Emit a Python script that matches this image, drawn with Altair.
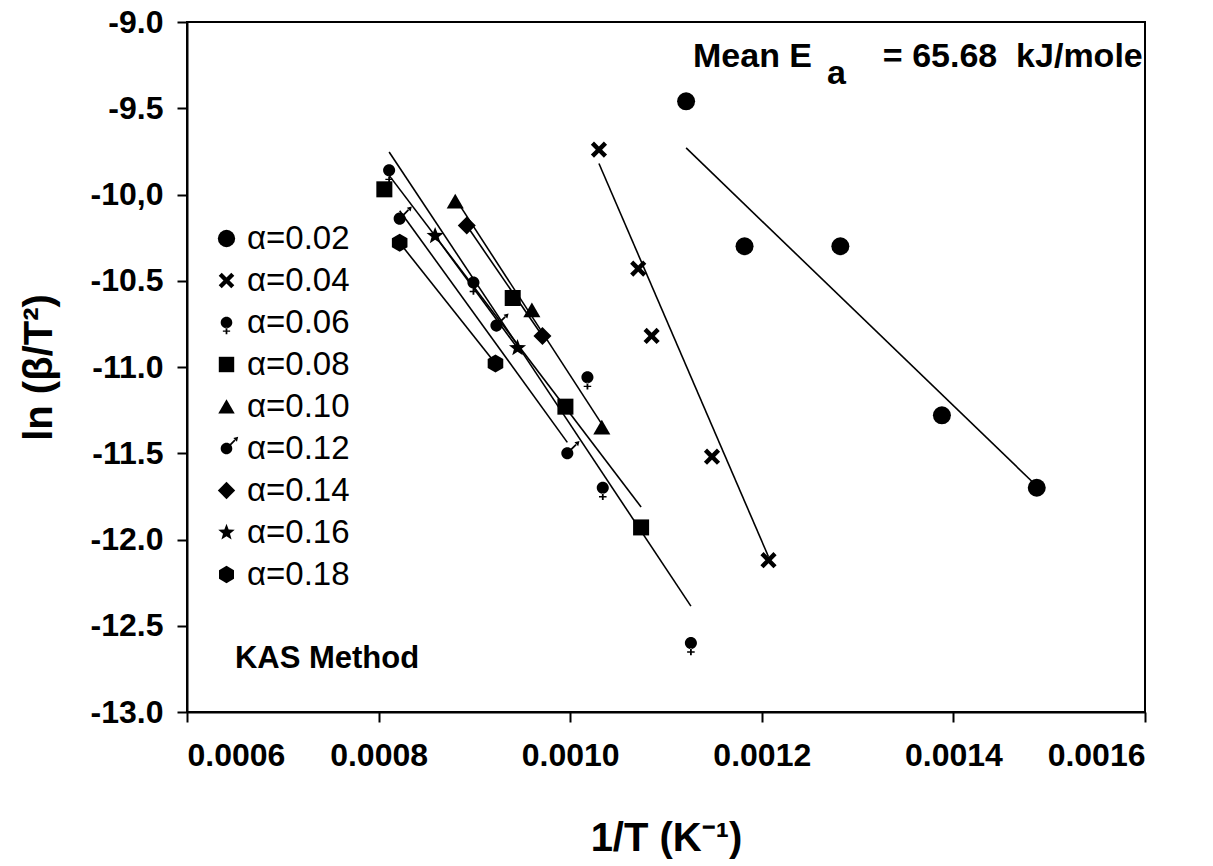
import altair as alt
import pandas as pd

# ---------------- data ----------------
series = ["α=0.02", "α=0.04", "α=0.06", "α=0.08", "α=0.10",
          "α=0.12", "α=0.14", "α=0.16", "α=0.18"]

x_002 = [0.001121, 0.001182, 0.001282, 0.001388, 0.001487]
y_002 = [-9.46, -10.30, -10.30, -11.28, -11.70]

x_004 = [0.001030, 0.001071, 0.001085, 0.001148, 0.001207]
y_004 = [-9.74, -10.43, -10.82, -11.52, -12.12]

x_006 = [0.000811, 0.000899, 0.001018, 0.001034, 0.001126]
y_006 = [-9.86, -10.51, -11.06, -11.70, -12.60]

x_008 = [0.000806, 0.000940, 0.000995, 0.001074]
y_008 = [-9.97, -10.60, -11.23, -11.93]

x_010 = [0.000880, 0.000960, 0.001033]
y_010 = [-10.04, -10.67, -11.35]

x_012 = [0.000822, 0.000923, 0.000997]
y_012 = [-10.14, -10.76, -11.50]

x_014 = [0.000892, 0.000971]
y_014 = [-10.18, -10.82]

x_016 = [0.000859, 0.000945]
y_016 = [-10.24, -10.89]

x_018 = [0.000822, 0.000922]
y_018 = [-10.28, -10.98]

# fitted lines drawn in the figure for the two right-hand series (ends)
fit_series = ["α=0.02", "α=0.04"]
fit_x = [[0.001121, 0.001487], [0.001030, 0.001207]]
fit_y = [[-9.73, -11.69], [-9.82, -12.10]]

x_ticks = [0.0006, 0.0008, 0.0010, 0.0012, 0.0014, 0.0016]
y_ticks = [-9.0, -9.5, -10.0, -10.5, -11.0, -11.5, -12.0, -12.5, -13.0]
y_tick_labels = ["-9.0", "-9.5", "-10,0", "-10.5", "-11.0", "-11.5",
                 "-12.0", "-12.5", "-13.0"]

# ---------------- tables ----------------
xs = [x_002, x_004, x_006, x_008, x_010, x_012, x_014, x_016, x_018]
ys = [y_002, y_004, y_006, y_008, y_010, y_012, y_014, y_016, y_018]
rows = []
for s, xv, yv in zip(series, xs, ys):
    for a, b in zip(xv, yv):
        rows.append({"series": s, "x": a, "y": b})
df = pd.DataFrame(rows)
df_left = df[~df["series"].isin(fit_series)]

fit_rows = []
for s, fx, fy in zip(fit_series, fit_x, fit_y):
    for a, b in zip(fx, fy):
        fit_rows.append({"series": s, "x": a, "y": b})
df_fit = pd.DataFrame(fit_rows)

# marker shapes (unit paths)
circle = "circle"
xmark = ("M-0.9,-0.55L-0.55,-0.9L0,-0.35L0.55,-0.9L0.9,-0.55L0.35,0L0.9,0.55"
         "L0.55,0.9L0,0.35L-0.55,0.9L-0.9,0.55L-0.35,0Z")
female = ("M-0.67,0A0.67,0.67 0 1,0 0.67,0A0.67,0.67 0 1,0 -0.67,0Z"
          "M-0.1,0.6L0.1,0.6L0.1,0.92L0.42,0.92L0.42,1.08L0.1,1.08L0.1,1.35"
          "L-0.1,1.35L-0.1,1.08L-0.42,1.08L-0.42,0.92L-0.1,0.92Z")
square = "M-0.89,-0.89L0.89,-0.89L0.89,0.89L-0.89,0.89Z"
triangle = "M0,-0.85L0.95,0.8L-0.95,0.8Z"
male = ("M-0.67,0A0.67,0.67 0 1,0 0.67,0A0.67,0.67 0 1,0 -0.67,0Z"
        "M0.5,-0.36L1.04,-0.9L0.9,-1.04L0.36,-0.5Z"
        "M1.35,-1.35L1.21,-0.79L0.79,-1.21Z")
diamond = "M0,-1L1,0L0,1L-1,0Z"
star = ("M0,-1L0.247,-0.34L0.951,-0.309L0.399,0.13L0.588,0.809L0,0.42"
        "L-0.588,0.809L-0.399,0.13L-0.951,-0.309L-0.247,-0.34Z")
hexagon = "M0,-1L0.866,-0.5L0.866,0.5L0,1L-0.866,0.5L-0.866,-0.5Z"
shape_range = [circle, xmark, female, square, triangle, male, diamond, star, hexagon]

FONT = "Liberation Sans"

label_expr = " : ".join(
    f"datum.value == {v} ? '{t}'" for v, t in zip(y_ticks, y_tick_labels)
) + " : ''"

x_enc = alt.X("x:Q",
              scale=alt.Scale(domain=[0.0006, 0.0016], nice=False, zero=False),
              axis=alt.Axis(values=x_ticks, format=".4f", title="1/T  (K⁻¹)",
                            titleX=479, titleY=126, titleAlign="center",
                            titleBaseline="middle"))
y_enc = alt.Y("y:Q",
              scale=alt.Scale(domain=[-13.0, -9.0], nice=False, zero=False),
              axis=alt.Axis(values=y_ticks, labelExpr=label_expr,
                            title="ln (β/T²)", titleX=-148, titleY=345,
                            titleAngle=270, titleAlign="center",
                            titleBaseline="middle"))

points = alt.Chart(df).mark_point(
    filled=True, opacity=1, size=324, color="black", strokeWidth=0
).encode(
    x=x_enc, y=y_enc,
    shape=alt.Shape("series:N",
                    scale=alt.Scale(domain=series, range=shape_range),
                    legend=alt.Legend(title=None, orient="none",
                                      legendX=23, legendY=200,
                                      symbolSize=300, symbolFillColor="black",
                                      symbolStrokeColor="black",
                                      symbolStrokeWidth=0,
                                      labelFont=FONT, labelFontSize=33,
                                      labelColor="black", labelOffset=4,
                                      rowPadding=8, padding=0)),
)

lines_left = alt.Chart(df_left).transform_regression(
    "x", "y", groupby=["series"]
).mark_line(color="black", strokeWidth=1.6).encode(
    x="x:Q", y="y:Q", detail="series:N"
)

lines_right = alt.Chart(df_fit).mark_line(color="black", strokeWidth=1.6).encode(
    x="x:Q", y="y:Q", detail="series:N"
)

ann = pd.DataFrame([{"x": 0.0011282, "y": -9.261, "t": "Mean E"}])
ann_sub = pd.DataFrame([{"x": 0.0012681, "y": -9.359, "t": "a"}])
ann_right = pd.DataFrame([{"x": 0.0014620, "y": -9.261,
                           "t": "= 65.68\u00a0\u00a0kJ/mole"}])
ann_kas = pd.DataFrame([{"x": 0.000650, "y": -12.745, "t": "KAS Method"}])

def txt(d, align, size=34):
    return alt.Chart(d).mark_text(
        font=FONT, fontSize=size, fontWeight="bold", color="black",
        align=align, baseline="alphabetic"
    ).encode(x="x:Q", y="y:Q", text="t:N")

chart = alt.layer(
    lines_left, lines_right, points,
    txt(ann, "left"), txt(ann_sub, "left"), txt(ann_right, "center"),
    txt(ann_kas, "left", 31),
).properties(
    width=958, height=690,
    padding={"left": 179, "top": 14, "right": 50, "bottom": 150},
    autosize=alt.AutoSizeParams(type="none"),
).configure_view(
    stroke="black", strokeWidth=2
).configure_axis(
    grid=False, domainColor="black", domainWidth=2,
    tickColor="black", tickWidth=2, tickSize=10,
    labelFont=FONT, labelFontSize=32, labelFontWeight="bold",
    labelColor="black", titleFont=FONT, titleFontSize=40,
    titleFontWeight="bold", titleColor="black",
).configure_axisX(labelPadding=18).configure_axisY(labelPadding=14)

chart.save("out.html", embed_options={"renderer": "svg", "actions": False})
